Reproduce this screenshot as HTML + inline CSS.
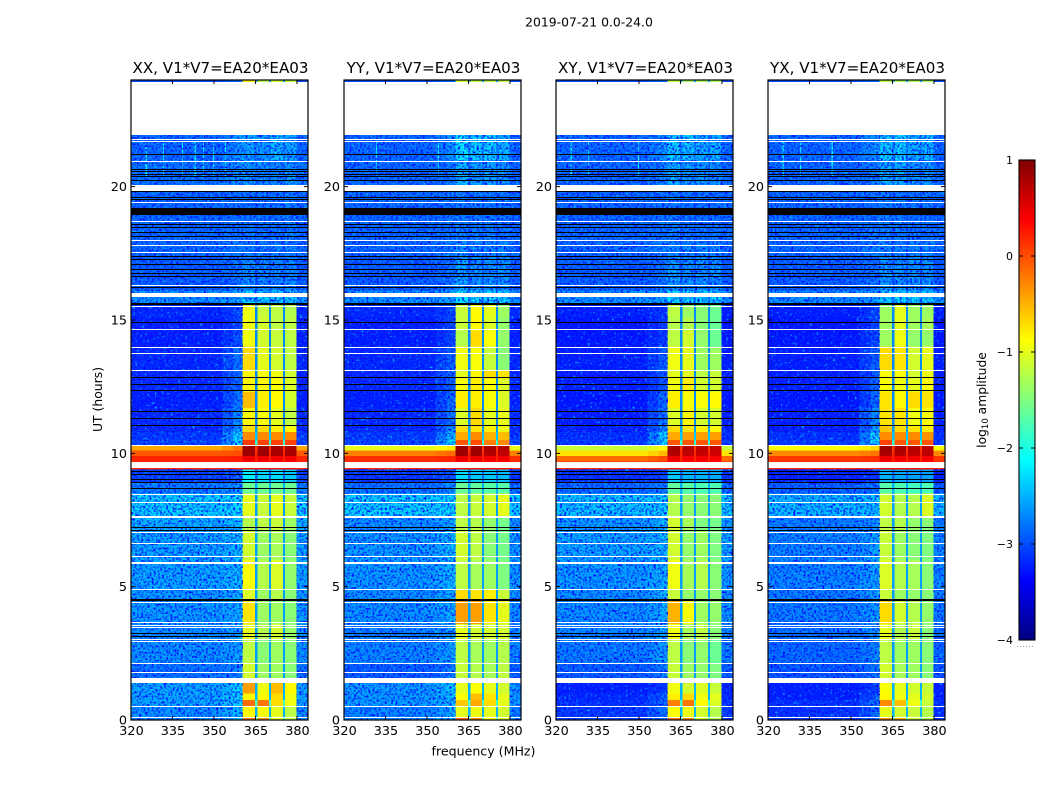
<!DOCTYPE html>
<html lang="en">
<head>
<meta charset="utf-8">
<title>2019-07-21 0.0-24.0 dynamic spectra</title>
<style>
html,body{margin:0;padding:0;background:#fff;width:1050px;height:800px;overflow:hidden}
svg{display:block}
text{font-family:"DejaVu Sans","Liberation Sans",sans-serif;fill:#000}
</style>
</head>
<body>
<svg id="chart" xmlns="http://www.w3.org/2000/svg" width="1050" height="800" viewBox="0 0 1050 800">
  <defs>
    <filter id="speckle" x="0" y="0" width="100%" height="100%" color-interpolation-filters="sRGB">
      <feTurbulence type="fractalNoise" baseFrequency="0.48" numOctaves="1" seed="4"/>
      <feColorMatrix values="0 0 0 0 0  0 0 0 0 0.02  0 0 0 0 1  2.4 2.4 0 0 -2.2"/>
    </filter>
    <filter id="speckle-light" x="0" y="0" width="100%" height="100%" color-interpolation-filters="sRGB">
      <feTurbulence type="fractalNoise" baseFrequency="0.42" numOctaves="1" seed="11"/>
      <feColorMatrix values="0 0 0 0 0.05  0 0 0 0 0.7  0 0 0 0 1  2.4 2.4 0 0 -2.7"/>
    </filter>
  </defs>
  <text x="589" y="26.5" font-size="12.4" text-anchor="middle">2019-07-21 0.0-24.0</text>
  <text x="483.5" y="755.5" font-size="12.6" text-anchor="middle">frequency (MHz)</text>
  <text transform="translate(102,399.5) rotate(-90)" font-size="12.4" text-anchor="middle">UT (hours)</text>
  <text transform="translate(986,400) rotate(-90)" font-size="12.3" text-anchor="middle">log<tspan font-size="8.5" dy="2">10</tspan><tspan dy="-2"> amplitude</tspan></text>
  <g id="panels"></g>
  <g id="colorbar"></g>
</svg>
<script>
/* ---------- axis ticks ---------- */
const xTicks = [320, 335, 350, 365, 380];
const yTicks = [0, 5, 10, 15, 20];
const colorbarTicks = [1, 0, -1, -2, -3, -4];

/* ---------- panel titles ---------- */
const polarizations = ['XX', 'YY', 'XY', 'YX'];
const baselineLabel = 'V1*V7=EA20*EA03';

/* ---------- frequency channel edges (MHz) ---------- */
const lowBandEdges = [320, 353, 357, 360.4];
const channelEdges = [[360.4, 364.9], [365.7, 369.9], [370.6, 374.9], [375.6, 379.9]];
const rightBandEdges = [379.9, 384];

/* ---------- time bands (UT hours, one more edge than rows) ---------- */
const rowEdges = [24, 23.93, 21.94, 21, 20, 18, 17.4, 16.1, 15.6, 15.1, 14.6, 14, 13.1, 12.8, 12.3, 11.7, 11, 10.8, 10.5, 10.3, 10.1, 9.9, 9.7, 9.4, 8.9, 8.5, 7.65, 7.1, 6, 4.9, 4.5, 3.6, 3, 2.1, 1.5, 1, 0.75, 0.5, 0.12, 0];

/* log10 amplitude between channels (shared by all panels, per row) */
const gapLevels = [-2.6, -2.6, -2.7, -2.8, -2.9, -2.9, -2.9, -2.7, -2.7, -2.7, -2.7, -2.7, -2.7, -2.7, -2.7, -2.7, -2.6, -2.4, -1.9, 0.1, 0.2, 0.2, 0.2, -2.9, -2.5, -2.6, -2.6, -2.6, -2.6, -2.6, -2.6, -2.6, -2.6, -2.6, -2.5, -2.5, -1.8, -2.5, -1.8];

/* log10 amplitude per row: [low band, band edge, channel 1, 2, 3, 4] */
const levelsXX = [
[-3.0,-2.9,-0.8,-1.2,-1.1,-1.2],[-3.0,-3.0,-3.0,-3.0,-3.0,-3.0],
[-2.8,-2.6,-2.5,-2.55,-2.4,-2.5],[-2.75,-2.6,-2.55,-2.6,-2.65,-2.55],
[-2.8,-2.75,-2.75,-2.75,-2.75,-2.7],[-2.8,-2.7,-2.7,-2.7,-2.7,-2.65],
[-2.85,-2.75,-2.6,-2.65,-2.65,-2.65],[-2.6,-2.5,-2.25,-2.3,-2.3,-2.3],
[-3.15,-2.95,-0.95,-1.15,-1.2,-1.25],[-3.2,-3.0,-0.95,-1.1,-1.2,-1.2],
[-3.2,-2.95,-0.95,-1.1,-1.15,-1.2],[-3.15,-2.75,-0.7,-1.0,-1.1,-1.2],
[-3.15,-2.75,-0.85,-0.9,-0.95,-1.1],[-3.15,-2.8,-0.85,-0.85,-0.9,-1.05],
[-3.2,-2.75,-0.55,-0.8,-0.85,-1.1],[-3.15,-2.6,-0.85,-0.9,-1.0,-1.2],
[-3.15,-2.5,-0.7,-0.7,-0.8,-0.85],[-3.05,-2.25,-0.3,-0.3,-0.3,-0.3],
[-3.0,-2.25,0.1,0.05,0.05,0.05],[-0.45,-0.2,0.85,0.85,0.8,0.8],
[-0.05,0.0,0.85,0.85,0.8,0.8],[0.2,0.25,0.45,0.45,0.42,0.42],
[0.2,0.2,0.3,0.3,0.3,0.3],[-3.0,-2.9,-2.2,-2.3,-2.3,-2.4],
[-2.7,-2.6,-1.6,-1.6,-1.6,-1.6],[-2.3,-2.25,-1.0,-1.15,-1.0,-1.15],
[-2.45,-2.35,-1.25,-1.2,-1.15,-1.35],[-2.5,-2.4,-1.1,-1.35,-1.3,-1.45],
[-2.5,-2.4,-0.9,-1.25,-1.05,-1.4],[-2.55,-2.45,-1.05,-1.35,-1.25,-1.45],
[-2.55,-2.45,-0.75,-1.35,-1.35,-1.45],[-2.6,-2.5,-1.0,-1.25,-1.1,-1.4],
[-2.6,-2.5,-1.2,-1.45,-1.35,-1.45],[-2.75,-2.65,-1.1,-1.35,-1.35,-1.45],
[-2.5,-2.3,-0.4,-0.95,-0.55,-0.85],[-2.5,-2.3,-0.85,-0.85,-0.7,-0.95],
[-2.5,-2.3,-0.15,-0.2,-0.7,-0.95],[-2.6,-2.4,-0.85,-0.9,-1.0,-1.2],
[-2.6,-2.4,-0.25,-0.35,-1.0,-1.2]];

const levelsYY = [
[-3.0,-2.9,-1.1,-1.2,-1.2,-1.2],[-3.0,-3.0,-3.0,-3.0,-3.0,-3.0],
[-2.8,-2.6,-2.2,-2.3,-2.3,-2.4],[-2.8,-2.7,-2.4,-2.5,-2.5,-2.55],
[-2.8,-2.75,-2.7,-2.7,-2.7,-2.75],[-2.8,-2.7,-2.6,-2.65,-2.65,-2.65],
[-2.85,-2.75,-2.5,-2.6,-2.6,-2.6],[-2.6,-2.5,-2.15,-2.25,-2.25,-2.3],
[-3.15,-3.0,-1.15,-0.85,-1.0,-1.35],[-3.2,-3.0,-1.15,-0.85,-1.05,-1.4],
[-3.2,-3.0,-1.25,-0.7,-0.9,-1.4],[-3.15,-2.85,-0.95,-0.9,-1.15,-1.45],
[-3.15,-2.85,-1.0,-0.85,-0.7,-0.75],[-3.15,-2.85,-0.9,-0.8,-0.9,-1.05],
[-3.2,-2.8,-0.8,-0.8,-0.9,-1.05],[-3.15,-2.75,-1.05,-0.7,-1.0,-1.0],
[-3.15,-2.65,-0.7,-0.75,-0.8,-0.95],[-3.05,-2.4,-0.45,-0.3,-0.5,-0.55],
[-3.0,-2.2,-0.05,0.0,-0.25,-0.3],[-1.0,-0.8,0.85,0.85,0.8,0.75],
[-0.25,-0.15,0.85,0.85,0.75,0.7],[0.15,0.2,0.45,0.45,0.42,0.42],
[0.2,0.2,0.3,0.3,0.3,0.3],[-3.05,-2.9,-2.3,-2.4,-2.4,-2.45],
[-2.75,-2.65,-1.6,-1.65,-1.7,-1.7],[-2.3,-2.25,-1.2,-1.15,-1.1,-1.0],
[-2.6,-2.5,-1.2,-1.25,-1.4,-1.55],[-2.55,-2.4,-1.1,-1.2,-1.45,-1.55],
[-2.55,-2.4,-1.2,-1.3,-1.35,-1.5],[-2.6,-2.45,-0.7,-0.75,-0.8,-1.15],
[-2.6,-2.45,-0.4,-0.4,-0.75,-1.0],[-2.65,-2.5,-1.0,-1.1,-1.1,-1.1],
[-2.65,-2.5,-1.2,-1.3,-1.35,-1.25],[-2.85,-2.7,-1.15,-1.25,-1.3,-1.2],
[-2.55,-2.35,-1.0,-0.9,-1.0,-1.1],[-2.55,-2.4,-0.9,-0.55,-0.75,-1.0],
[-2.55,-2.4,-0.6,-0.45,-0.7,-1.0],[-2.65,-2.45,-1.0,-0.95,-1.0,-1.1],
[-2.65,-2.45,-0.1,-0.3,-0.9,-1.1]];

const levelsXY = [
[-3.0,-2.9,-1.2,-1.3,-1.3,-1.3],[-3.0,-3.0,-3.0,-3.0,-3.0,-3.0],
[-2.8,-2.6,-2.3,-2.35,-2.45,-2.45],[-2.8,-2.7,-2.45,-2.55,-2.55,-2.6],
[-2.8,-2.75,-2.7,-2.75,-2.75,-2.75],[-2.8,-2.7,-2.65,-2.65,-2.65,-2.65],
[-2.85,-2.75,-2.55,-2.6,-2.6,-2.6],[-2.6,-2.5,-2.25,-2.3,-2.3,-2.3],
[-3.2,-3.05,-1.2,-1.35,-1.45,-1.6],[-3.25,-3.05,-1.25,-1.25,-1.45,-1.6],
[-3.25,-3.05,-1.2,-1.1,-1.4,-1.6],[-3.2,-2.85,-0.95,-1.0,-1.35,-1.35],
[-3.2,-2.9,-1.0,-1.0,-1.2,-1.15],[-3.2,-2.9,-0.95,-0.8,-1.1,-1.1],
[-3.25,-2.8,-0.8,-0.9,-0.9,-0.85],[-3.2,-2.75,-1.05,-0.85,-1.1,-1.1],
[-3.2,-2.65,-0.7,-0.75,-0.8,-0.85],[-3.1,-2.3,-0.45,-0.4,-0.4,-0.4],
[-3.05,-2.25,-0.05,-0.05,-0.05,-0.05],[-1.15,-0.9,0.8,0.75,0.7,0.65],
[-0.75,-0.55,0.75,0.7,0.65,0.6],[-0.15,0.0,0.45,0.4,0.4,0.38],
[0.2,0.2,0.3,0.3,0.3,0.3],[-3.1,-3.0,-2.4,-2.5,-2.5,-2.55],
[-2.8,-2.7,-1.65,-1.7,-1.75,-1.75],[-2.35,-2.3,-1.25,-1.4,-1.45,-1.45],
[-2.55,-2.45,-1.1,-1.3,-1.5,-1.55],[-2.5,-2.4,-1.1,-1.4,-1.35,-1.5],
[-2.55,-2.45,-0.95,-1.3,-1.25,-1.45],[-2.6,-2.45,-1.15,-1.4,-1.4,-1.45],
[-2.6,-2.45,-0.5,-0.9,-1.35,-1.4],[-2.65,-2.5,-0.95,-1.3,-1.2,-1.45],
[-2.7,-2.55,-1.2,-1.45,-1.4,-1.6],[-2.85,-2.7,-1.15,-1.35,-1.4,-1.5],
[-3.2,-3.05,-0.95,-1.1,-1.05,-1.15],[-3.15,-2.85,-0.8,-0.7,-0.95,-1.0],
[-3.1,-2.8,-0.25,-0.2,-0.85,-1.05],[-3.05,-2.75,-0.9,-0.95,-1.1,-1.25],
[-3.05,-2.75,-0.2,-0.3,-1.1,-1.25]];

const levelsYX = [
[-3.0,-2.9,-1.2,-1.3,-1.3,-1.3],[-3.0,-3.0,-3.0,-3.0,-3.0,-3.0],
[-2.8,-2.6,-2.3,-2.3,-2.45,-2.4],[-2.8,-2.7,-2.45,-2.45,-2.6,-2.55],
[-2.8,-2.75,-2.7,-2.7,-2.75,-2.75],[-2.8,-2.7,-2.65,-2.65,-2.65,-2.65],
[-2.85,-2.75,-2.55,-2.6,-2.6,-2.6],[-2.6,-2.5,-2.25,-2.25,-2.3,-2.3],
[-3.2,-3.0,-1.35,-1.0,-1.35,-1.35],[-3.25,-3.0,-1.35,-1.0,-1.35,-1.3],
[-3.25,-3.0,-1.35,-0.95,-1.4,-1.4],[-3.2,-2.85,-0.7,-0.75,-1.1,-1.0],
[-3.2,-2.85,-0.9,-0.9,-1.1,-0.95],[-3.2,-2.85,-0.9,-0.95,-1.0,-0.9],
[-3.25,-2.8,-0.75,-0.85,-0.7,-0.75],[-3.2,-2.65,-0.75,-0.75,-0.95,-0.9],
[-3.2,-2.55,-0.6,-0.7,-0.75,-0.8],[-3.1,-2.3,-0.3,-0.3,-0.3,-0.35],
[-3.05,-2.25,0.05,-0.05,-0.05,-0.05],[-0.9,-0.7,0.85,0.8,0.75,0.7],
[-0.3,-0.2,0.8,0.75,0.7,0.7],[0.1,0.15,0.45,0.42,0.42,0.4],
[0.2,0.2,0.3,0.3,0.3,0.3],[-3.2,-3.1,-2.5,-2.55,-2.6,-2.6],
[-2.85,-2.75,-1.7,-1.75,-1.8,-1.75],[-2.4,-2.35,-1.1,-1.25,-1.25,-1.05],
[-2.7,-2.6,-1.2,-1.25,-1.4,-1.45],[-2.65,-2.5,-1.15,-1.35,-1.45,-1.5],
[-2.65,-2.5,-1.05,-1.25,-1.3,-1.45],[-2.7,-2.55,-1.15,-1.35,-1.4,-1.45],
[-2.7,-2.55,-0.7,-1.1,-1.25,-1.4],[-2.75,-2.6,-1.0,-1.25,-1.15,-1.45],
[-2.8,-2.65,-1.2,-1.35,-1.35,-1.45],[-2.9,-2.75,-1.1,-1.3,-1.35,-1.45],
[-3.2,-3.05,-0.9,-1.0,-1.1,-1.15],[-3.2,-2.9,-0.85,-0.95,-1.0,-1.1],
[-3.1,-2.8,-0.3,-0.55,-0.95,-1.15],[-3.1,-2.8,-1.0,-1.1,-1.15,-1.25],
[-3.1,-2.8,-0.35,-0.5,-1.15,-1.25]];

const panelLevels = [levelsXX, levelsYY, levelsXY, levelsYX];

/* ---------- narrow-band interference columns 21.7-20.4 h (MHz) ---------- */
const rfiXX = [325.3, 331.5, 338.4, 343, 346, 349.6, 353.9];
const rfiYY = [331.5, 353.9];
const rfiXY = [325.3, 331.5, 349.6];
const rfiYX = [325.3, 331.5, 343];
const panelRfi = [rfiXX, rfiYY, rfiXY, rfiYX];

/* ---------- flagged (blank) time ranges, UT hours ---------- */
const whiteFlags = [[23.93,21.94],[21.77,21.73],[21.69,21.65],[20.94,20.9],[20.06,19.84],[19.41,19.37],[18.69,18.65],[17.98,17.94],[17.79,17.75],[17.53,17.49],[16.29,16.24],[16.01,15.86],[15.51,15.47],[14.64,14.6],[13.97,13.93],[13.75,13.7],[13.11,13.07],[10.29,10.25],[9.675,9.45],[8.46,8.42],[8.16,8.12],[7.65,7.56],[7.03,6.99],[6.62,6.58],[6.13,6.09],[5.91,5.85],[4.89,4.85],[4.41,4.37],[3.66,3.62],[3.54,3.5],[3.47,3.43],[3.02,2.98],[2.94,2.9],[2.12,2.08],[1.78,1.74],[1.575,1.39],[0.51,0.47],[0.09,0.05]];

/* ---------- zero-data (black) time ranges, UT hours ---------- */
const blackFlags = [[21.21,21.17],[20.65,20.61],[20.57,20.53],[20.46,20.42],[20.38,20.34],[20.23,20.19],[19.82,19.78],[19.6,19.56],[19.52,19.48],[19.2,18.94],[18.58,18.54],[18.47,18.43],[18.28,18.24],[18.13,18.09],[17.38,17.34],[17.27,17.23],[17.08,17.04],[16.9,16.86],[16.75,16.71],[16.63,16.59],[16.22,16.18],[15.64,15.56],[14.91,14.87],[12.85,12.81],[12.58,12.54],[12.36,12.32],[11.57,11.53],[11.31,11.27],[11.05,11.01],[9.32,9.28],[9.21,9.17],[9.02,8.98],[8.91,8.87],[8.68,8.64],[7.22,7.18],[7.11,7.07],[4.54,4.46],[3.25,3.21],[3.13,3.09]];

const NS = 'http://www.w3.org/2000/svg';
const plotTop = 80, plotBottom = 720, plotWidth = 177;
const panelLefts = [131, 344, 556, 768];
const freqMin = 320, freqMax = 384, hourMax = 24;

function yScale(hour) { return plotBottom - (hour / hourMax) * (plotBottom - plotTop); }
function xScale(left, mhz) { return left + (mhz - freqMin) / (freqMax - freqMin) * plotWidth; }

function jetColor(level) {
  const t = Math.max(0, Math.min(1, (level + 4) / 5));
  const c = (x) => Math.round(255 * Math.max(0, Math.min(1, x)));
  const r = 1.5 - Math.abs(4 * t - 3);
  const g = 1.5 - Math.abs(4 * t - 2);
  const b = 1.5 - Math.abs(4 * t - 1);
  return 'rgb(' + c(r) + ',' + c(g) + ',' + c(b) + ')';
}

function svgEl(tag, attrs, parent) {
  const el = document.createElementNS(NS, tag);
  for (const k in attrs) el.setAttribute(k, attrs[k]);
  parent.appendChild(el);
  return el;
}

function drawCell(parent, left, f0, f1, h0, h1, level) {
  const x0 = xScale(left, f0), x1 = xScale(left, f1);
  const y0 = yScale(h0), y1 = yScale(h1);
  const cell = svgEl('rect', { x: x0, y: y0, width: x1 - x0, height: y1 - y0, fill: jetColor(level), 'shape-rendering': 'crispEdges' }, parent);
  
  
}

function drawFlag(parent, left, band, fill, name) {
  const rawTop = yScale(band[0]);
  const rawHeight = yScale(band[1]) - rawTop;
  const y0 = Math.floor(rawTop + 0.2);
  const height = rawHeight < 1.4 ? 1 : Math.round(rawHeight);
  const r = svgEl('rect', { x: left, y: y0, width: plotWidth, height: height, fill: fill, 'shape-rendering': 'crispEdges' }, parent);
  
  
}

function drawPanel(index) {
  const left = panelLefts[index];
  const levels = panelLevels[index];
  const right = left + plotWidth;
  const root = document.getElementById('panels');
  const g = svgEl('g', {}, root);
  
  

  /* low band, channels and gaps for every time row */
  levels.forEach((row, r) => {
    const h0 = rowEdges[r], h1 = rowEdges[r + 1];
    const low = row[0], edge = row[1];
    drawCell(g, left, lowBandEdges[0], lowBandEdges[1], h0, h1, low);
    drawCell(g, left, lowBandEdges[1], lowBandEdges[2], h0, h1, (low + edge) / 2);
    drawCell(g, left, lowBandEdges[2], lowBandEdges[3], h0, h1, edge);
    channelEdges.forEach((ch, c) => {
      drawCell(g, left, ch[0], ch[1], h0, h1, row[2 + c]);
      const next = c < channelEdges.length - 1 ? channelEdges[c + 1][0] : ch[1];
      if (next > ch[1]) drawCell(g, left, ch[1], next, h0, h1, gapLevels[r]);
    });
    drawCell(g, left, rightBandEdges[0], rightBandEdges[1], h0, h1, low);
  });

  /* narrow-band interference columns */
  panelRfi[index].forEach((mhz) => {
    drawCell(g, left, mhz, mhz + 0.45, 21.7, 20.4, -2.1);
  });

  /* noise texture over the background, leaving the bright band smooth */
  const noiseTop = yScale(21.94);
  const hotTop = yScale(10.3);
  const hotBottom = yScale(9.4);
  const lowRight = xScale(left, lowBandEdges[3]);
  const chRight = xScale(left, rightBandEdges[0]);
  [[left, lowRight, noiseTop, hotTop],
   [left, lowRight, hotBottom, plotBottom],
   [chRight, right, noiseTop, hotTop],
   [chRight, right, hotBottom, plotBottom],
   [lowRight, chRight, noiseTop, yScale(15.6)]].forEach((a) => {
    ['speckle', 'speckle-light'].forEach((f) => {
      const n = svgEl('rect', { x: a[0], y: a[2], width: a[1] - a[0], height: a[3] - a[2], filter: 'url(#' + f + ')' }, g);
      
      
    });
  });

  /* flagged ranges */
  whiteFlags.forEach((b) => drawFlag(g, left, b, '#fff', 'flagged-time-band'));
  blackFlags.forEach((b) => drawFlag(g, left, b, '#000', 'zero-data-band'));

  /* frame */
  const frame = svgEl('rect', { x: left, y: plotTop, width: plotWidth, height: plotBottom - plotTop, fill: 'none', stroke: '#000', 'stroke-width': 1.2 }, g);
  
  

  /* ticks and tick labels */
  xTicks.forEach((tick) => {
    const x = xScale(left, tick);
    const d = 'M' + x + ' ' + plotBottom + 'v-4M' + x + ' ' + plotTop + 'v4';
    const mark = svgEl('path', { d: d, stroke: '#000', 'stroke-width': 1, fill: 'none' }, g);
    
    
    const label = svgEl('text', { x: x + 0.5, y: plotBottom + 15, 'font-size': 12.8, 'text-anchor': 'middle' }, g);
    label.textContent = String(tick);
    
    
  });
  yTicks.forEach((tick) => {
    const y = yScale(tick);
    const d = 'M' + left + ' ' + y + 'h4M' + right + ' ' + y + 'h-4';
    const mark = svgEl('path', { d: d, stroke: '#000', 'stroke-width': 1, fill: 'none' }, g);
    
    
    const label = svgEl('text', { x: left - 4, y: y + 4.5, 'font-size': 12.8, 'text-anchor': 'end' }, g);
    label.textContent = String(tick);
    
    
  });

  /* panel title */
  const title = svgEl('text', { x: left + plotWidth / 2 + 1, y: 73, 'font-size': 15.1, 'text-anchor': 'middle' }, g);
  title.textContent = polarizations[index] + ', ' + baselineLabel;
  
  
}

function drawColorbar() {
  const g = document.getElementById('colorbar');
  const x = 1019, w = 16, top = 160, bottom = 640;
  const cbY = (v) => bottom - (v + 4) / 5 * (bottom - top);
  for (let py = top; py < bottom; py += 2) {
    const v = -4 + (bottom - py - 1) / (bottom - top) * 5;
    const s = svgEl('rect', { x: x, y: py, width: w, height: 2, fill: jetColor(v), 'shape-rendering': 'crispEdges' }, g);
    
    
  }
  const frame = svgEl('rect', { x: x, y: top, width: w, height: bottom - top, fill: 'none', stroke: '#000', 'stroke-width': 1.1 }, g);
  
  
  colorbarTicks.forEach((tick) => {
    const y = cbY(tick);
    const d = 'M' + x + ' ' + y + 'h4M' + (x + w) + ' ' + y + 'h-4';
    const mark = svgEl('path', { d: d, stroke: '#000', 'stroke-width': 1, fill: 'none' }, g);
    
    
    const label = svgEl('text', { x: 1013, y: y + 4, 'font-size': 11, 'text-anchor': 'end' }, g);
    label.textContent = tick < 0 ? '\u2212' + Math.abs(tick) : String(tick);
    
    
  });
  const dots = svgEl('line', { x1: 1017, x2: 1035, y1: 646.5, y2: 646.5, stroke: '#999', 'stroke-width': 1, 'stroke-dasharray': '1 2' }, g);
  
  
}

polarizations.forEach((p, i) => drawPanel(i));
drawColorbar();
</script>
</body>
</html>
